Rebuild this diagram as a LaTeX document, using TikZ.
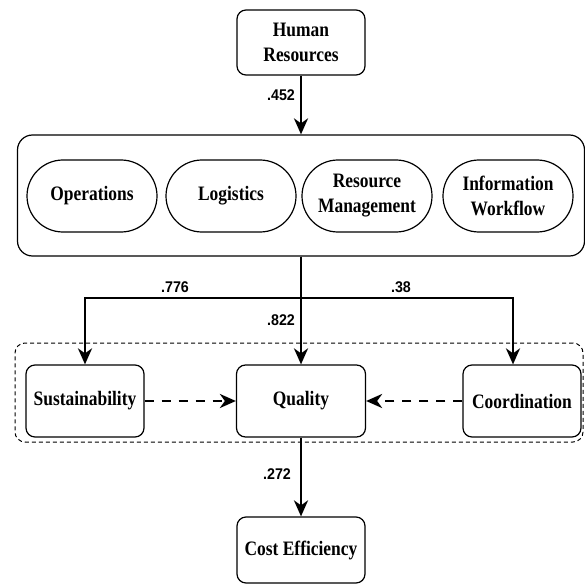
\documentclass[tikz,border=0pt]{standalone}
\usepackage{fontspec}
\setmainfont{Liberation Serif}[FakeStretch=0.85]
\newfontfamily\lblfont{Liberation Sans}[FakeStretch=0.92]
\usetikzlibrary{arrows.meta}
\begin{document}
\begin{tikzpicture}[x=1pt,y=-1pt,
  boxtext/.style={font=\bfseries\fontsize{20.5}{25}\selectfont, align=center, inner sep=0pt},
  rbox/.style={boxtext, draw, line width=1.2pt, rounded corners=9pt},
  pill/.style={boxtext, draw, line width=1.2pt, rounded corners=36pt, minimum width=130pt, minimum height=72pt},
  lbl/.style={font=\lblfont\bfseries\fontsize{15.5}{17}\selectfont, inner sep=0pt},
  arr/.style={line width=2.8pt, -{Stealth[length=16pt,width=14pt,inset=5pt]}},
  darr/.style={line width=2.8pt, dash pattern=on 9pt off 8pt, -{Stealth[length=16pt,width=14pt,inset=5pt]}}
]
\useasboundingbox (0,0) rectangle (585,585);
% top
\node[rbox, minimum width=128pt, minimum height=65pt] (hr) at (301,42.5) {Human\\Resources};
% big group
\node[draw, line width=1.2pt, rounded corners=15pt, minimum width=567pt, minimum height=121pt, inner sep=0pt] (big) at (301,195.5) {};
\node[pill] (ops) at (92,196) {Operations};
\node[pill] (log) at (231,196) {Logistics};
\node[pill] (res) at (367,196) {Resource\\Management};
\node[pill] (inf) at (508,196) {Information\\Workflow};
% dashed container
\node[draw, line width=1pt, dash pattern=on 4pt off 3pt, rounded corners=10pt, minimum width=568pt, minimum height=99pt, inner sep=0pt] (grp) at (299,392.5) {};
\node[rbox, minimum width=118pt, minimum height=72pt] (sus) at (85,401) {Sustainability};
\node[rbox, minimum width=129pt, minimum height=72pt] (qua) at (301,401) {Quality};
\node[rbox, minimum width=118pt, minimum height=72pt] (coo) at (522,401) {Coordination};
\node[rbox, minimum width=128pt, minimum height=66pt] (ce) at (301,550) {Cost Efficiency};
% connectors
\coordinate (jL) at (85,298);
\coordinate (jR) at (513,298);
\draw[arr] (hr) -- (big);
\draw[arr] (big.south) -- (qua.north);
\draw[arr] (big.south) |- (jL) -- (sus.north);
\draw[arr] (big.south) |- (jR) -- (jR |- coo.north);
\draw[darr] (sus.east) -- (qua.west);
\draw[darr] (coo.west) -- (qua.east);
\draw[arr] (qua.south) -- (ce.north);
% labels
\node[lbl] (l452) at (281,95) {.452};
\node[lbl] (l776) at (175,287) {.776};
\node[lbl] (l38) at (401,287) {.38};
\node[lbl] (l822) at (281,320) {.822};
\node[lbl] (l272) at (277,474) {.272};
\end{tikzpicture}
\end{document}
